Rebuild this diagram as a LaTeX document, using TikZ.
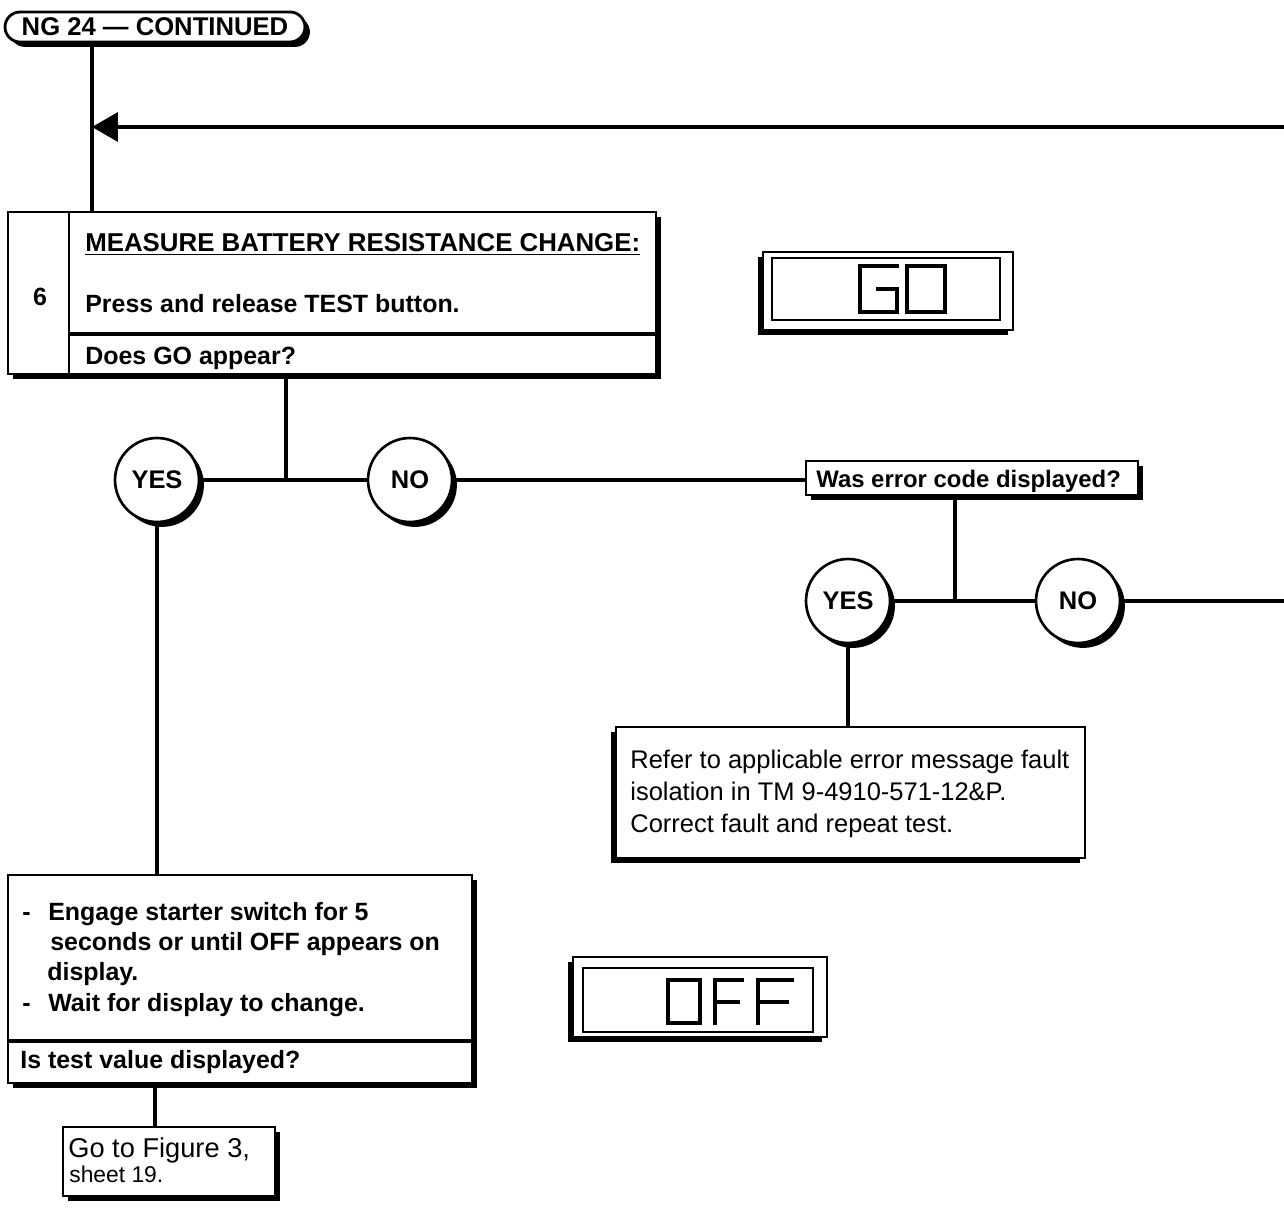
\documentclass[tikz,border=0pt]{standalone}
\usepackage{fontspec}
\setmainfont{Liberation Sans}
\usepackage{tikz}
\usetikzlibrary{arrows.meta}
\usetikzlibrary{shadows}
\tikzset{
  shade br/.style={drop shadow={shadow xshift=2.8pt, shadow yshift=-2.8pt, opacity=1, fill=black}},
  shade bl/.style={drop shadow={shadow xshift=-2.8pt, shadow yshift=-2.8pt, opacity=1, fill=black}},
  box/.style={draw, fill=white, line width=1.6pt, inner sep=0pt},
  answer/.style={circle, draw, fill=white, line width=1.5pt, minimum size=1.68cm, inner sep=0pt,
    font=\fontsize{14.5}{17}\selectfont\bfseries, shade br},
  txt/.style={anchor=base west, inner sep=0pt, font=\fontsize{14.5}{17}\selectfont},
  bold txt/.style={anchor=base west, inner sep=0pt, font=\fontsize{14.2}{17}\selectfont\bfseries},
  link/.style={line width=2pt},
  segment/.style={line width=1.8pt, line cap=rect},
}

\begin{document}
\begin{tikzpicture}[x=0.02cm, y=-0.02cm]
\useasboundingbox (0,0) rectangle (1284,1209);

\node[box, shade br, rounded corners=0.3cm, minimum width=6cm, minimum height=0.6cm,
  font=\fontsize{14.6}{17}\selectfont\bfseries] (hdr) at (155,27) {NG 24 — CONTINUED};
\coordinate (loopin) at (1284,127);
\coordinate (j0) at (92,127);

% step 6
\node[box, shade br, minimum width=12.96cm, minimum height=3.24cm] (step6) at (332,293) {};
\draw[link] (hdr.south -| j0) -- (j0 |- step6.north);
\draw[link, -{Triangle[length=0.52cm, width=0.58cm]}] (loopin) -- (j0);
\draw[line width=1.3pt] (step6.north west) ++(62,0) coordinate (c6) -- (c6 |- step6.south);
\draw[line width=2pt] (c6 |- 0,334) -- (step6.east |- 0,334);
\node[bold txt, anchor=base] (num6) at (40,306) {6};
\node[bold txt, font=\fontsize{14.7}{17}\selectfont\bfseries] (title6) at (85,252) {\underline{MEASURE BATTERY RESISTANCE CHANGE:}};
\node[bold txt] (press6) at (85,313) {Press and release TEST button.};
\node[bold txt] (ques6) at (85,364) {Does GO appear?};

% GO display
\node[box, shade bl, minimum width=5cm, minimum height=1.56cm] (godisp) at (888,291) {};
\draw[line width=1.2pt] (772,258) rectangle (1000,320);
\draw[segment] (897,266) -- (860,266) -- (860,312) -- (897,312) -- (897,289) -- (878,289);
\draw[segment] (907,266) rectangle (945,312);

\node[answer] (yes1) at (157,480) {YES};
\node[answer] (no1) at (410,480) {NO};
\coordinate (j1) at (286,480);
\draw[link] (step6.south -| j1) -- (j1);
\draw[link] (yes1) -- (no1);

\node[box, shade br, minimum width=6.64cm, minimum height=0.68cm] (errq) at (972,478) {};
\node[bold txt, font=\fontsize{13.6}{17}\selectfont\bfseries] (errqtxt) at (816,487) {Was error code displayed?};
\draw[link] (no1) -- (no1 -| errq.west);

\node[answer] (yes2) at (848,601) {YES};
\node[answer] (no2) at (1078,601) {NO};
\coordinate (j2) at (955,601);
\coordinate (exit2) at (1284,601);
\draw[link] (errq.south -| j2) -- (j2);
\draw[link] (yes2) -- (no2);
\draw[link] (no2) -- (exit2);

% error message
\node[box, shade bl, minimum width=9.38cm, minimum height=2.62cm] (errbox) at (850.5,792.5) {};
\draw[link] (yes2) -- (yes2 |- errbox.north);
\node[txt] (err1) at (630,768) {Refer to applicable error message fault};
\node[txt] (err2) at (630,800) {isolation in TM 9-4910-571-12\&P.};
\node[txt] (err3) at (630,832) {Correct fault and repeat test.};

% starter
\node[box, shade br, minimum width=9.28cm, minimum height=4.16cm] (actbox) at (240,979) {};
\draw[link] (yes1) -- (yes1 |- actbox.north);
\draw[line width=2pt] (actbox.west |- 0,1041) -- (actbox.east |- 0,1041);
\node[bold txt] (dash1) at (22,920) {-};
\node[bold txt] (act1) at (48,920) {Engage starter switch for 5};
\node[bold txt] (act2) at (50,950) {seconds or until OFF appears on};
\node[bold txt] (act3) at (47,980) {display.};
\node[bold txt] (dash2) at (22,1011) {-};
\node[bold txt] (act4) at (48,1011) {Wait for display to change.};
\node[bold txt] (actq) at (20,1068) {Is test value displayed?};

\node[box, shade br, minimum width=4.24cm, minimum height=1.38cm] (goto) at (169,1161.5) {};
\draw[link] (actbox.south -| 155,0) -- (goto.north -| 155,0);
\node[txt, font=\fontsize{15.5}{17}\selectfont] (goto1) at (68,1157) {Go to Figure 3,};
\node[txt, font=\fontsize{13}{15}\selectfont] (goto2) at (69,1182) {sheet 19.};

% OFF display
\node[box, shade bl, minimum width=5.08cm, minimum height=1.6cm] (offdisp) at (700,997) {};
\draw[line width=1.2pt] (583,968) rectangle (813,1032);
\draw[segment] (668,980) rectangle (700,1023);
\draw[segment] (742,980) -- (715,980) -- (715,1023) (715,1002) -- (738,1002);
\draw[segment] (792,980) -- (758,980) -- (758,1023) (758,1002) -- (787,1002);
\end{tikzpicture}
\end{document}
